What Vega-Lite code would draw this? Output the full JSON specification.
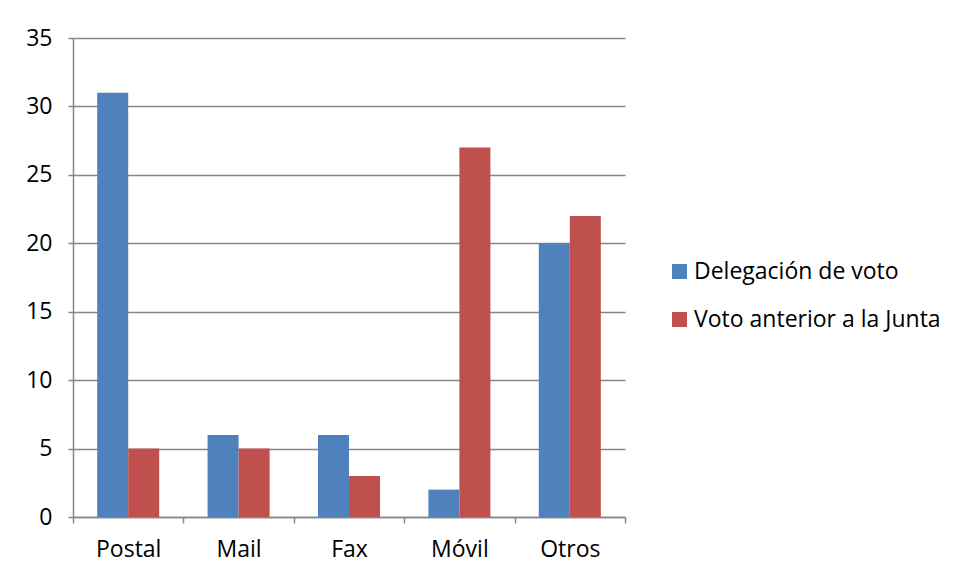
{
  "$schema": "https://vega.github.io/schema/vega-lite/v6.json",
  "autosize": "none",
  "width": 552,
  "height": 479,
  "padding": {"left": 73, "top": 38, "right": 333, "bottom": 63},
  "background": "white",
  "config": {
    "view": {"stroke": null},
    "font": "Open Sans",
    "axis": {"labelFont": "Open Sans", "labelColor": "#000000", "labelFontSize": 23, "domainColor": "#868686", "tickColor": "#868686", "gridColor": "#868686", "domainWidth": 1.5, "tickWidth": 1.5, "gridWidth": 1.5},
    "legend": {"labelFont": "Open Sans", "labelColor": "#000000", "labelFontSize": 23, "labelLimit": 400}
  },
  "data": {
    "values": [
      {"categoria": "Postal", "serie": "Delegación de voto", "valor": 31},
      {"categoria": "Postal", "serie": "Voto anterior a la Junta", "valor": 5},
      {"categoria": "Mail", "serie": "Delegación de voto", "valor": 6},
      {"categoria": "Mail", "serie": "Voto anterior a la Junta", "valor": 5},
      {"categoria": "Fax", "serie": "Delegación de voto", "valor": 6},
      {"categoria": "Fax", "serie": "Voto anterior a la Junta", "valor": 3},
      {"categoria": "Móvil", "serie": "Delegación de voto", "valor": 2},
      {"categoria": "Móvil", "serie": "Voto anterior a la Junta", "valor": 27},
      {"categoria": "Otros", "serie": "Delegación de voto", "valor": 20},
      {"categoria": "Otros", "serie": "Voto anterior a la Junta", "valor": 22}
    ]
  },
  "mark": {"type": "bar"},
  "encoding": {
    "x": {
      "field": "categoria", "type": "nominal",
      "sort": ["Postal", "Mail", "Fax", "Móvil", "Otros"],
      "scale": {"paddingInner": 0, "paddingOuter": 0},
      "axis": {"title": null, "labelAngle": 0, "tickBand": "extent", "tickSize": 6, "labelPadding": 15, "grid": false}
    },
    "xOffset": {
      "field": "serie", "type": "nominal",
      "scale": {"paddingInner": 0, "paddingOuter": 0.78}
    },
    "y": {
      "field": "valor", "type": "quantitative",
      "scale": {"domain": [0, 35], "nice": false},
      "axis": {"title": null, "values": [0, 5, 10, 15, 20, 25, 30, 35], "tickSize": 5, "labelPadding": 16, "grid": true}
    },
    "color": {
      "field": "serie", "type": "nominal",
      "scale": {"domain": ["Delegación de voto", "Voto anterior a la Junta"], "range": ["#4F81BD", "#C0504D"]},
      "legend": {"title": null, "orient": "none", "legendX": 595, "legendY": 222, "symbolType": "square", "symbolSize": 225, "symbolStrokeWidth": 0, "rowPadding": 24, "labelOffset": 3, "padding": 0}
    }
  }
}
